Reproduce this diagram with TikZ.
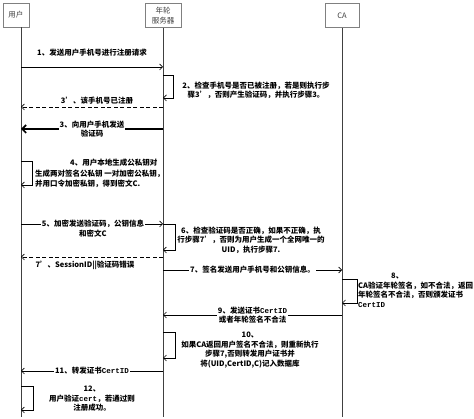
\documentclass[tikz,border=0pt]{standalone}
\usepackage{fontspec}
\setmainfont{Noto Sans CJK SC}
\setmonofont{Liberation Mono}
\usetikzlibrary{arrows.meta}
\usetikzlibrary{positioning}

\begin{document}
\begin{tikzpicture}[x=1pt, y=-1pt, font=\fontsize{7.5}{9.5}\selectfont\bfseries,
    actor/.style={draw=gray, thick, minimum height=24pt, align=center, font=\fontsize{7.5}{10}\selectfont, text=darkgray},
    life/.style={draw=darkgray, line width=0.8pt},
    msg/.style={-{Straight Barb[length=3pt, width=6pt]}, line width=0.7pt},
    reply/.style={msg, dash pattern=on 4pt off 2.5pt},
    lbl/.style={align=center, inner sep=1pt, fill=white}]
  \useasboundingbox (0,0) rectangle (474,419);

  \node[actor, minimum width=26pt] (user) at (16,15) {用户};
  \node[actor, minimum width=36pt] (server) at (163,15.5) {年轮\\服务器};
  \node[actor, minimum width=34pt] (ca) at (342,15.5) {CA};
  \coordinate (uEnd) at (21,417);
  \coordinate (sEnd) at (163,417);
  \coordinate (cEnd) at (342,417);
  \draw[life] (user.south -| uEnd) -- (uEnd);
  \draw[life] (server.south) -- (sEnd);
  \draw[life] (ca.south) -- (cEnd);

  \path (21,67) coordinate (u1) (163,67) coordinate (s1)
        (163,75) coordinate (s2a) (163,98) coordinate (s2b)
        (163,107) coordinate (s3r) (21,107) coordinate (u3r)
        (163,129) coordinate (s3) (21,129) coordinate (u3)
        (21,161) coordinate (u4a) (21,185) coordinate (u4b)
        (21,224) coordinate (u5) (163,224) coordinate (s5)
        (163,250) coordinate (s6)
        (163,257) coordinate (s7r) (21,257) coordinate (u7r)
        (163,270) coordinate (s7) (342,270) coordinate (c7)
        (342,279) coordinate (c8a) (342,303) coordinate (c8b)
        (342,315) coordinate (c9) (163,315) coordinate (s9)
        (163,332) coordinate (s10a) (163,358) coordinate (s10b)
        (163,371) coordinate (s11) (21,371) coordinate (u11)
        (21,386) coordinate (u12a) (21,410) coordinate (u12b);

  \draw[msg] (u1) -- node[above=9pt, inner sep=1pt] {1、发送用户手机号进行注册请求} (s1);
  \draw[msg] (s2a) -- ++(10,0) |- (s2b);
  \node[align=center, inner sep=0pt] (t2) at (256,90.5) {2、检查手机号是否已被注册，若是则执行步\\骤3'，否则产生验证码，并执行步骤3。};
  \draw[reply] (s3r) -- node[above=1pt, inner sep=1pt, xshift=5pt] {3'、该手机号已注册} (u3r);
  \draw[-{Straight Barb[length=4pt, width=8pt]}, line width=1.6pt] (s3) -- node[lbl, font=\fontsize{7.5}{9}\selectfont\bfseries] {3、向用户手机发送\\验证码} (u3);
  \draw[msg] (u4a) -- ++(11,0) |- (u4b);
  \node[align=left, inner sep=0pt, anchor=west, font=\fontsize{7.5}{10.5}\selectfont\bfseries] (t4) at (35,173.5) {\hspace*{35pt}4、用户本地生成公私钥对\\生成两对签名公私钥 一对加密公私钥，\\并用口令加密私钥，得到密文C.};
  \draw[msg] (u5) -- (s5);
  \node[lbl] (t5) at (93,228.5) {5、加密发送验证码，公钥信息\\和密文C};
  \draw[msg] (s5) -- ++(12,0) |- (s6);
  \node[align=center, inner sep=0pt] (t6) at (251,240) {6、检查验证码是否正确，如果不正确，执\\行步骤7'，否则为用户生成一个全网唯一的\\UID，执行步骤7.};
  \draw[reply] (s7r) -- node[below=3pt, inner sep=1pt, xshift=-7pt] {7'、SessionID||验证码错误} (u7r);
  \draw[msg] (s7) -- node[lbl] {7、签名发送用户手机号和公钥信息。} (c7);
  \draw[msg] (c8a) -- ++(15,0) |- (c8b);
  \node[align=left, inner sep=0pt, anchor=north west] (t8) at (358,273) {\hspace*{33pt}8、\\CA验证年轮签名，如不合法，返回\\年轮签名不合法，否则颁发证书\\\texttt{CertID}};
  \draw[msg] (c9) -- node[lbl, font=\fontsize{7.5}{9}\selectfont\bfseries] {9、发送证书\texttt{CertID}\\或者年轮签名不合法} (s9);
  \draw[msg] (s10a) -- ++(12,0) |- (s10b);
  \node[align=center, inner sep=0pt] (t10) at (250,350) {10、\\如果CA返回用户签名不合法，则重新执行\\步骤7,否则转发用户证书并\\将(UID,CertID,C)记入数据库};
  \draw[msg] (s11) -- node[lbl] {11、转发证书\texttt{CertID}} (u11);
  \draw[msg] (u12a) -- ++(12,0) |- (u12b);
  \node[align=center, inner sep=0pt] (t12) at (92,399) {12、\\用户验证\texttt{cert}，若通过则\\注册成功。};
\end{tikzpicture}
\end{document}
